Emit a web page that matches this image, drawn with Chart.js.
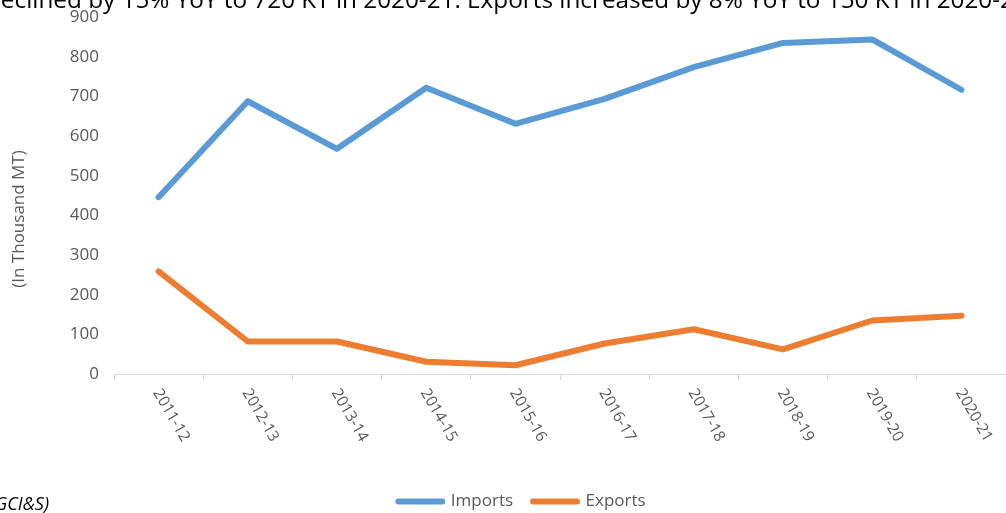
<!DOCTYPE html>
<html>
<head>
<meta charset="utf-8">
<script src="https://cdn.jsdelivr.net/npm/chart.js@4/dist/chart.umd.min.js"></script>
<style>
  html, body { margin: 0; padding: 0; background: #fff; }
  #wrap { width: 1006px; height: 513px; position: relative; }
</style>
</head>
<body>
<div id="wrap"><canvas id="tradeChart"></canvas></div>
<script>
// financial years on the x axis
const years = ['2011-12', '2012-13', '2013-14', '2014-15', '2015-16', '2016-17', '2017-18', '2018-19', '2019-20', '2020-21'];
// thousand tonnes
const imports = [446, 688, 568, 722, 631, 694, 774, 835, 844, 717];
const exports = [259, 82, 82, 31, 22, 77, 113, 62, 135, 147];
const yTicks = [0, 100, 200, 300, 400, 500, 600, 700, 800, 900];

const headline = 'declined by 15% YoY to 720 KT in 2020-21. Exports increased by 8% YoY to 150 KT in 2020-21';
const sourceNote = '(Source: DGCI&S)';
const yTitle = '(In Thousand MT)';

const FONT = "'Open Sans', 'Liberation Sans', sans-serif";
const GREY = '#595959';

// slanted year labels, running down and to the right from each tick
const slantLabels = {
    id: 'slantLabels',
    afterDraw(chart) {
        const ctx = chart.ctx;
        const xs = chart.scales.x;
        ctx.save();
        ctx.font = '15.5px ' + FONT;
        ctx.fillStyle = GREY;
        ctx.textAlign = 'left';
        ctx.textBaseline = 'middle';
        years.forEach((y, i) => {
            const px = xs.getPixelForTick(i);
            ctx.save();
            ctx.translate(px - 2, xs.top + 16);
            ctx.rotate(Math.PI / 3);
            ctx.fillText(y, 0, 0);
            ctx.restore();
        });
        ctx.restore();
    }
};

// text around the chart: headline running off the top, axis title, source note
const pageText = {
    id: 'pageText',
    afterDraw(chart) {
        const ctx = chart.ctx;
        ctx.save();
        ctx.fillStyle = '#000';
        ctx.font = '24.3px ' + FONT;
        ctx.textAlign = 'left';
        ctx.textBaseline = 'alphabetic';
        ctx.fillText(headline, -14, 8);

        ctx.font = 'italic 18px ' + FONT;
        ctx.textAlign = 'right';
        ctx.fillText(sourceNote, 49, 510);

        ctx.save();
        ctx.translate(19, 219);
        ctx.rotate(-Math.PI / 2);
        ctx.font = '17px ' + FONT;
        ctx.fillStyle = GREY;
        ctx.textAlign = 'center';
        ctx.textBaseline = 'middle';
        ctx.fillText(yTitle, 0, 0);
        ctx.restore();
        ctx.restore();
    }
};

new Chart(document.getElementById('tradeChart'), {
    type: 'line',
    data: {
        labels: years,
        datasets: [
            {
                label: 'Imports',
                data: imports,
                borderColor: '#5B9BD5',
                backgroundColor: '#5B9BD5',
                borderWidth: 6,
                pointRadius: 0,
                tension: 0,
                borderCapStyle: 'round',
                borderJoinStyle: 'round'
            },
            {
                label: 'Exports',
                data: exports,
                borderColor: '#ED7D31',
                backgroundColor: '#ED7D31',
                borderWidth: 6,
                pointRadius: 0,
                tension: 0,
                borderCapStyle: 'round',
                borderJoinStyle: 'round'
            }
        ]
    },
    options: {
        responsive: true,
        maintainAspectRatio: false,
        animation: false,
        // legend sits a little right of centre, so the left padding is taken back from the y axis width
        layout: { padding: { top: 11, right: 0, left: 38, bottom: -7 } },
        plugins: {
            tooltip: { enabled: false },
            legend: {
                position: 'bottom',
                labels: {
                    usePointStyle: true,
                    pointStyleWidth: 44,
                    boxHeight: 6,
                    padding: 20,
                    color: GREY,
                    font: { family: FONT, size: 17 },
                    generateLabels: chart => chart.data.datasets.map((ds, i) => ({
                        text: ds.label,
                        fillStyle: ds.borderColor,
                        strokeStyle: ds.borderColor,
                        lineWidth: 6,
                        lineCap: 'round',
                        pointStyle: 'line',
                        fontColor: GREY,
                        datasetIndex: i
                    }))
                }
            }
        },
        scales: {
            x: {
                offset: true,
                grid: {
                    display: true,
                    offset: true,
                    drawOnChartArea: false,
                    color: '#d9d9d9',
                    tickLength: 6
                },
                border: { display: true, color: '#d9d9d9' },
                ticks: { display: false },
                afterFit: s => { s.height = 99; }
            },
            y: {
                min: 0,
                max: 900,
                afterBuildTicks: s => { s.ticks = yTicks.map(v => ({ value: v })); },
                grid: { display: false },
                border: { display: false },
                ticks: {
                    color: GREY,
                    padding: 7,
                    font: { family: FONT, size: 17 }
                },
                afterFit: s => { s.width = 76; }
            }
        }
    },
    plugins: [slantLabels, pageText]
});
</script>
</body>
</html>
